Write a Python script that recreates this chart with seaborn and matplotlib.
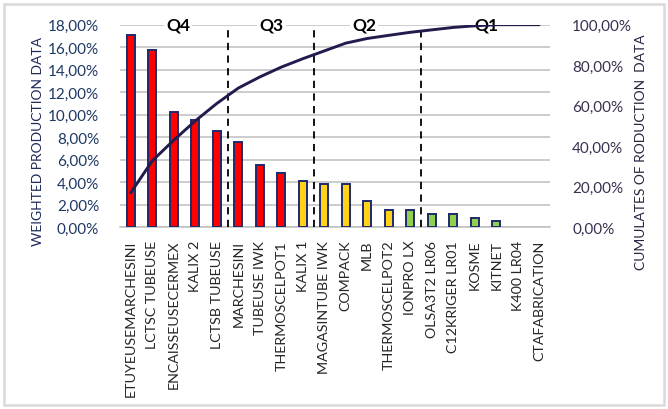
import numpy as np
import pandas as pd
import matplotlib
matplotlib.use("Agg")
import matplotlib.pyplot as plt
import seaborn as sns
from matplotlib.patches import Rectangle
from matplotlib.ticker import FuncFormatter, MultipleLocator

# Production lines, sorted by weighted production share (%)
machines = [
    "ETUYEUSEMARCHESINI", "LCTSC TUBEUSE", "ENCAISSEUSECERMEX", "KALIX 2",
    "LCTSB TUBEUSE", "MARCHESINI", "TUBEUSE IWK", "THERMOSCELPOT1", "KALIX 1",
    "MAGASINTUBE IWK", "COMPACK", "MLB", "THERMOSCELPOT2", "IONPRO LX",
    "OLSA3T2 LR06", "C12KRIGER LR01", "KOSME", "KITNET", "K400 LR04",
    "CTAFABRICATION",
]
weighted = [17.05, 15.75, 10.20, 9.50, 8.60, 7.60, 5.50, 4.85, 4.15, 3.85,
            3.85, 2.30, 1.55, 1.50, 1.20, 1.20, 0.80, 0.55, 0.00, 0.00]
# Colour class of each bar
bar_class = ["high"] * 8 + ["mid"] * 5 + ["low"] * 7
class_colors = {"high": "#FF0000", "mid": "#FFD21A", "low": "#8FD14F"}

# Quartile zones: label and boundary positions (between categories)
zone_labels = ["Q4", "Q3", "Q2", "Q1"]
zone_label_x = [2.2, 6.55, 10.85, 16.55]
zone_bounds = [4.5, 8.5, 13.5]

df = pd.DataFrame({"machine": machines, "weighted": weighted, "cls": bar_class})
df["cumulative"] = np.cumsum(df["weighted"])
df["pos"] = np.arange(len(df))

sns.set_style("white")
plt.rcParams["font.family"] = ["Lato", "DejaVu Sans"]

W, H = 668, 410
fig = plt.figure(figsize=(W / 100, H / 100), dpi=100)
ax = fig.add_axes([120 / W, 1 - 228.3 / H, 430 / W, 202.6 / H])

palette = [class_colors[c] for c in df["cls"]]
sns.barplot(data=df, x="machine", y="weighted", hue="machine", palette=palette,
            legend=False, width=0.38, edgecolor="#1F2A6B", linewidth=1.4,
            saturation=1, ax=ax, zorder=3)
for p in ax.patches:
    if p.get_height() == 0:
        p.set_linewidth(0)

ax.set_xlim(-0.5, len(df) - 0.5)
ax.set_ylim(0, 18)
ax.yaxis.set_major_locator(MultipleLocator(2))
ax.yaxis.set_major_formatter(FuncFormatter(lambda v, _: f"{v:.2f}%".replace(".", ",")))
ax.grid(axis="y", color="#BFBFBF", linewidth=1.1, zorder=0)
ax.grid(axis="x", visible=False)
for s in ["top", "right", "left"]:
    ax.spines[s].set_visible(False)
ax.spines["bottom"].set_color("#BFBFBF")
ax.spines["bottom"].set_linewidth(1.1)
ax.tick_params(axis="y", length=0, pad=15, labelsize=11, labelcolor="#1F3864")
ax.tick_params(axis="x", length=0, pad=9, labelsize=10.3, labelcolor="#262626",
               labelrotation=90)
ax.set_xlabel("")
ax.set_ylabel("")

# Zone boundaries and labels
for b in zone_bounds:
    ax.axvline(b, ymin=0, ymax=1, color="black", linestyle=(0, (4, 3)),
               linewidth=1.3, zorder=4)
for lab, xp in zip(zone_labels, zone_label_x):
    ax.text(xp, 18, lab, ha="center", va="center", fontsize=12.5,
            fontweight="bold", color="black", zorder=5,
            bbox=dict(facecolor="white", edgecolor="none", pad=1.5))

# Cumulative curve on the secondary axis
ax2 = ax.twinx()
sns.lineplot(data=df, x="pos", y="cumulative", color="#221C4E", linewidth=2.1,
             ax=ax2, zorder=6)
ax2.set_ylim(0, 100)
ax2.yaxis.set_major_locator(MultipleLocator(20))
ax2.yaxis.set_major_formatter(FuncFormatter(lambda v, _: f"{v:.2f}%".replace(".", ",")))
ax2.tick_params(axis="y", length=0, pad=16, labelsize=11, labelcolor="#3A3050")
ax2.grid(False)
for s in ["top", "right", "left", "bottom"]:
    ax2.spines[s].set_visible(False)
ax2.set_xlabel("")
ax2.set_ylabel("")
ax2.set_xlim(-0.5, len(df) - 0.5)

# Axis titles
fig.text(38 / W, 1 - 142 / H, "WEIGHTED PRODUCTION DATA", rotation=90,
         ha="center", va="center", fontsize=10, color="#1F2A5C")
fig.text(641 / W, 1 - 152 / H, "CUMULATES OF RODUCTION  DATA", rotation=90,
         ha="center", va="center", fontsize=10, color="#2B2340")

# Chart frame
fig.patches.append(Rectangle((4 / W, 4 / H), 660 / W, 401 / H, transform=fig.transFigure,
                             fill=False, edgecolor="#D9D9D9", linewidth=1.8))

fig.savefig("out.png", dpi=100)
